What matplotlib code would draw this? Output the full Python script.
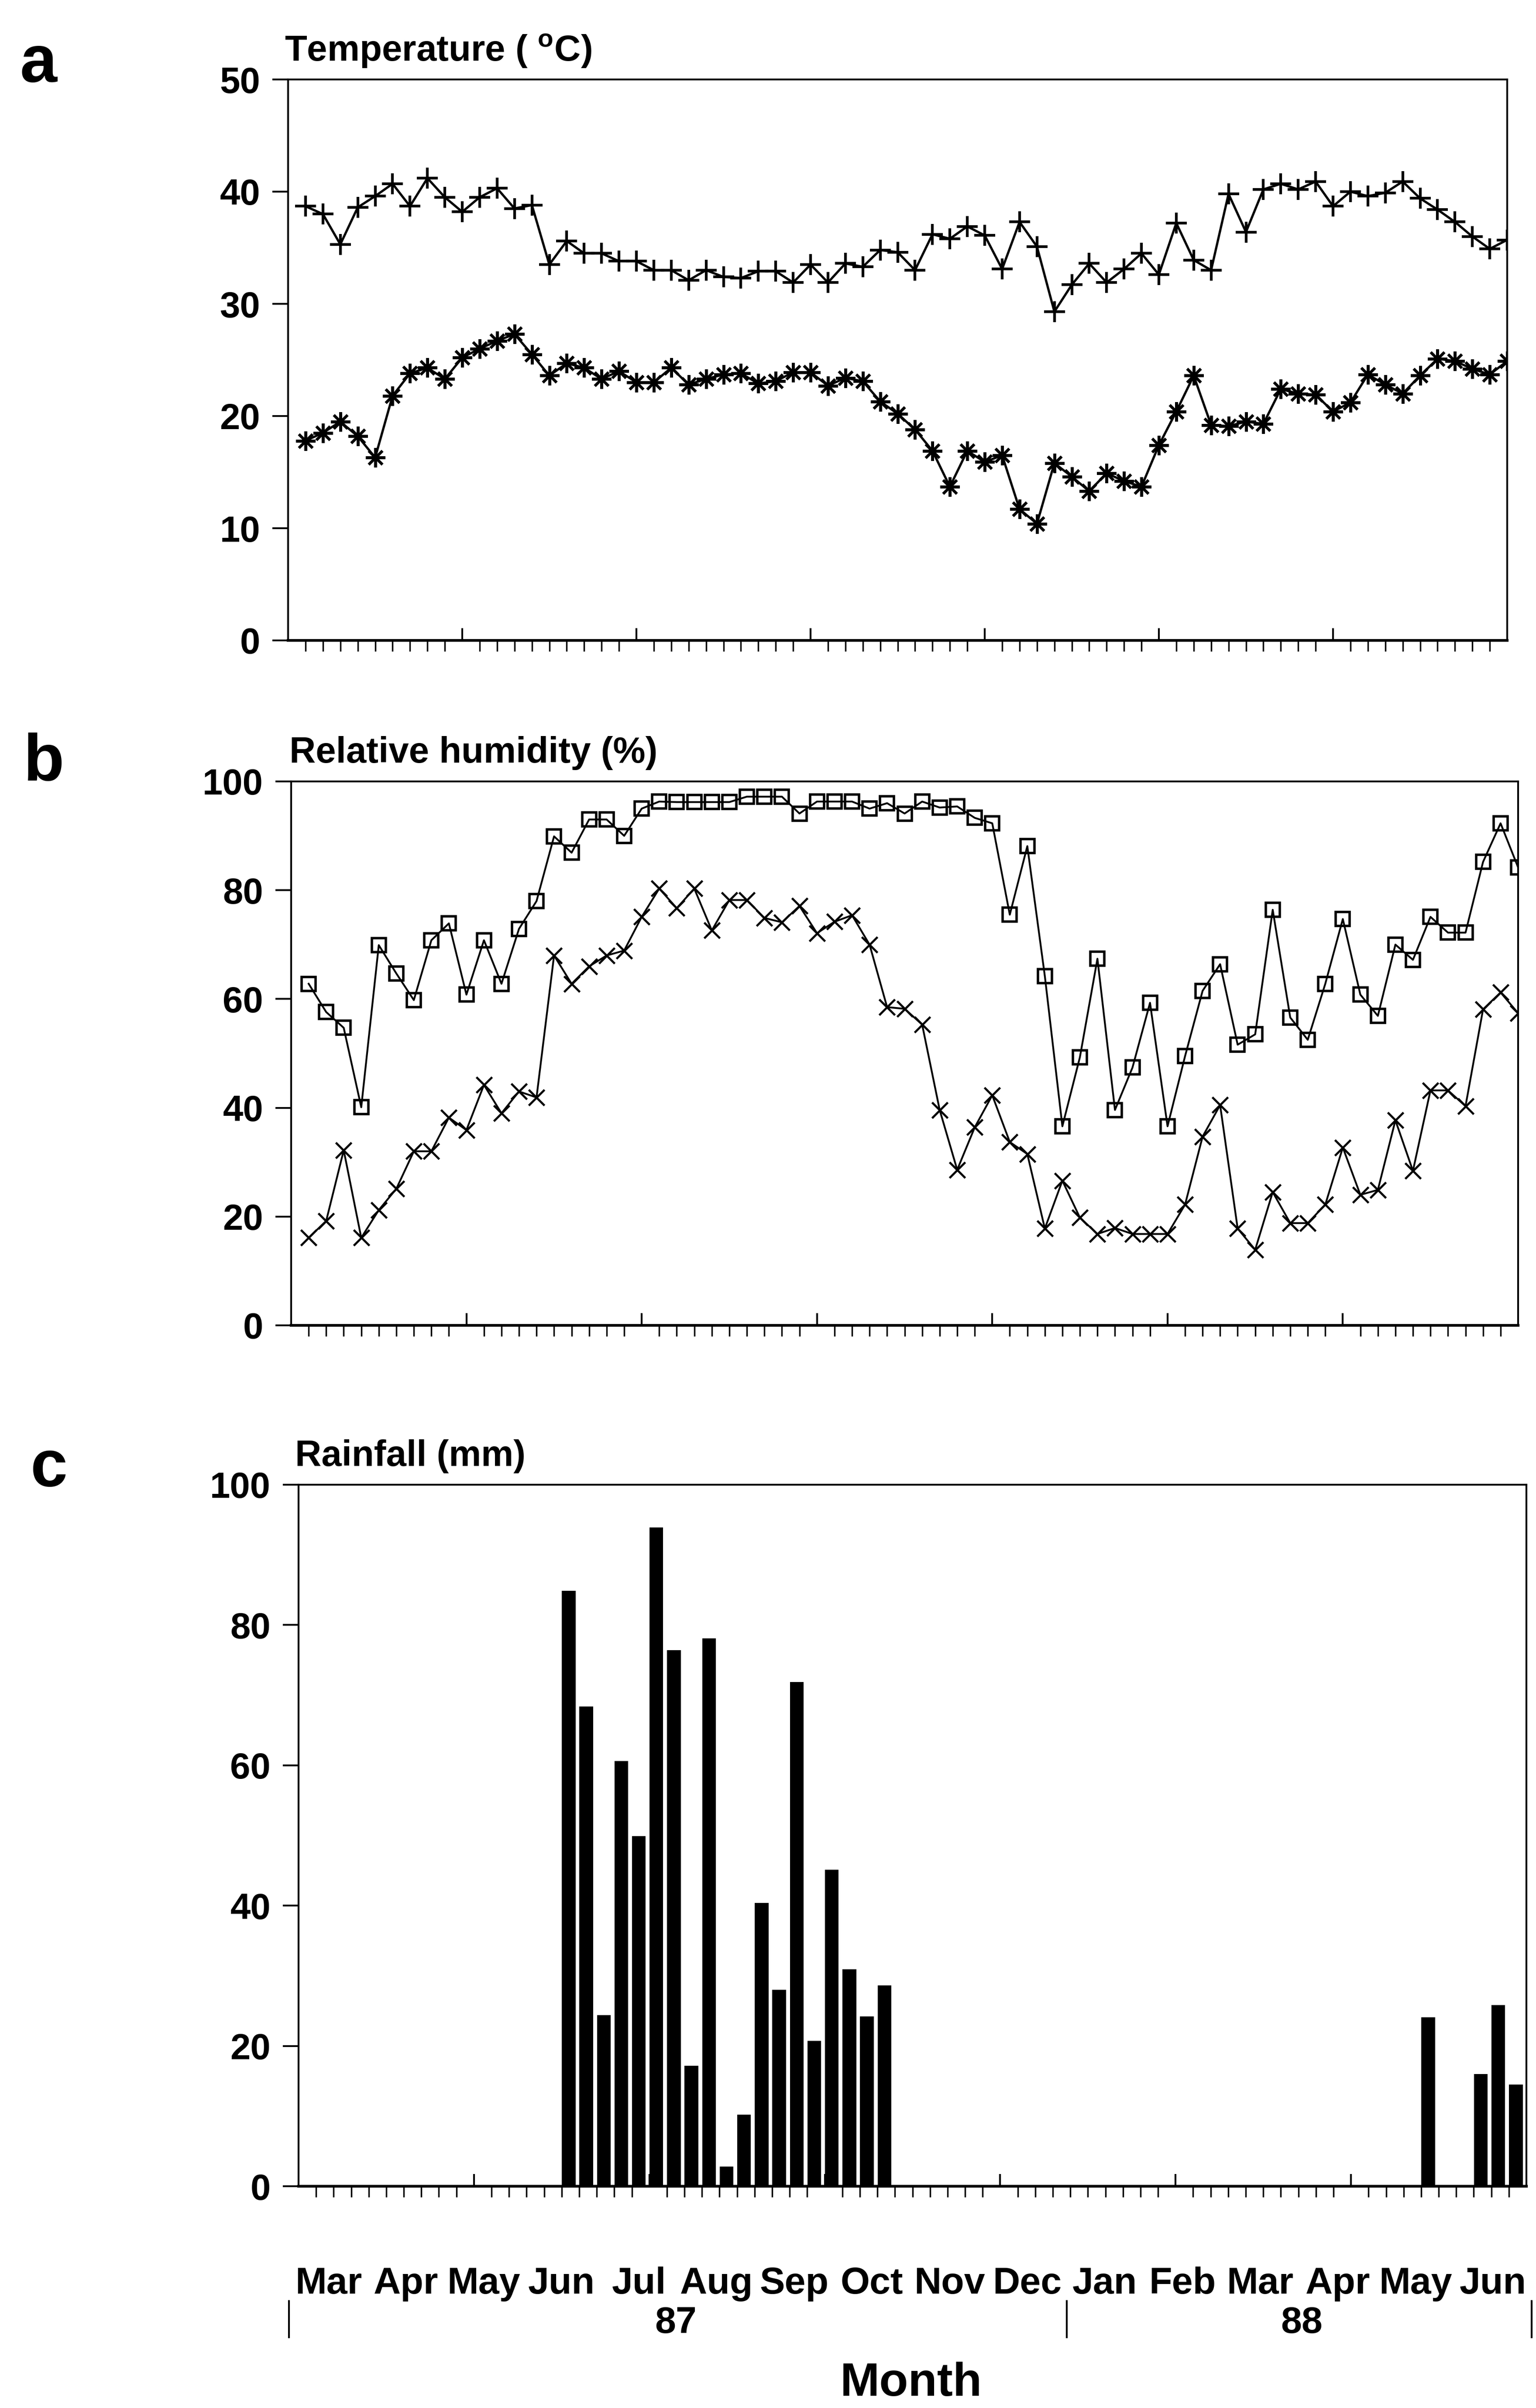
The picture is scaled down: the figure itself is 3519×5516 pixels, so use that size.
import numpy as np
import matplotlib.pyplot as plt
from matplotlib import transforms

plt.rcParams['font.family'] = ['Liberation Sans', 'DejaVu Sans']
plt.rcParams['font.weight'] = 'bold'
plt.rcParams['mathtext.fontset'] = 'custom'
plt.rcParams['mathtext.rm'] = 'Liberation Sans:bold'
plt.rcParams['mathtext.bf'] = 'Liberation Sans:bold'

# weekly data, March 1987 - June 1988
weeks = np.arange(1, 71)

t_max = [38.7, 38.0, 35.3, 38.6, 39.6, 40.7, 38.7, 41.2, 39.5, 38.2,
         39.5, 40.3, 38.5, 38.8, 33.5, 35.6, 34.5, 34.5, 33.8, 33.8,
         33.0, 33.0, 32.1, 33.0, 32.4, 32.3, 32.9, 32.9, 31.9, 33.5,
         31.9, 33.6, 33.3, 34.8, 34.6, 33.0, 36.2, 35.8, 36.9, 36.1,
         33.1, 37.3, 35.1, 29.3, 31.7, 33.6, 31.9, 33.1, 34.5, 32.6,
         37.2, 33.9, 33.0, 39.8, 36.4, 40.2, 40.7, 40.2, 40.9, 38.7,
         40.0, 39.6, 39.9, 40.9, 39.4, 38.4, 37.3, 36.0, 34.9, 35.7]

t_min = [17.8, 18.5, 19.5, 18.2, 16.3, 21.8, 23.8, 24.3, 23.3, 25.2,
         26.0, 26.7, 27.3, 25.5, 23.6, 24.7, 24.3, 23.3, 24.0, 23.0,
         23.0, 24.3, 22.8, 23.3, 23.7, 23.8, 22.9, 23.1, 23.9, 23.9,
         22.7, 23.4, 23.1, 21.3, 20.2, 18.8, 16.9, 13.7, 16.9, 15.9,
         16.5, 11.7, 10.4, 15.8, 14.6, 13.3, 14.9, 14.2, 13.7, 17.4,
         20.4, 23.6, 19.2, 19.1, 19.5, 19.3, 22.4, 22.0, 21.9, 20.4,
         21.2, 23.7, 22.8, 22.0, 23.6, 25.1, 24.9, 24.2, 23.7, 24.9]

rh_max = [62.8, 57.6, 54.7, 40.1, 69.9, 64.7, 59.8, 70.8, 73.9, 60.8,
          70.8, 62.8, 72.9, 78.0, 89.9, 86.9, 93.0, 93.0, 90.0, 95.0,
          96.3, 96.2, 96.2, 96.2, 96.2, 97.2, 97.2, 97.2, 94.1, 96.3,
          96.3, 96.3, 95.0, 96.0, 94.1, 96.3, 95.2, 95.4, 93.3, 92.3,
          75.5, 88.1, 64.2, 36.6, 49.3, 67.4, 39.6, 47.4, 59.3, 36.6,
          49.5, 61.5, 66.4, 51.6, 53.5, 76.4, 56.6, 52.5, 62.8, 74.7,
          60.8, 56.9, 70.0, 67.2, 75.1, 72.2, 72.2, 85.2, 92.3, 84.2]

rh_min = [16.1, 19.2, 32.2, 16.1, 21.2, 25.1, 32.0, 32.0, 38.2, 35.9,
          44.2, 39.0, 43.0, 41.9, 68.0, 62.8, 66.0, 68.0, 68.9, 75.1,
          80.3, 76.7, 80.3, 72.6, 78.2, 78.2, 74.9, 74.1, 77.1, 72.1,
          74.2, 75.4, 70.0, 58.5, 58.2, 55.3, 39.6, 28.6, 36.4, 42.3,
          33.7, 31.5, 17.8, 26.6, 19.8, 16.8, 17.9, 16.8, 16.8, 16.8,
          22.2, 34.7, 40.5, 17.8, 13.9, 24.5, 18.8, 18.8, 22.2, 32.7,
          24.0, 24.9, 37.7, 28.4, 43.2, 43.2, 40.3, 58.1, 61.2, 57.4]

rain_weeks = [15, 16, 17, 18, 19, 20, 21, 22, 23, 24, 25, 26, 27, 28,
              29, 30, 31, 32, 33, 64, 67, 68, 69]
rain_mm = [84.9, 68.4, 24.4, 60.6, 49.9, 93.9, 76.4, 17.2, 78.1, 2.8,
           10.2, 40.4, 28.0, 71.9, 20.7, 45.1, 30.9, 24.2, 28.6,
           24.1, 16.0, 25.8, 14.5]

months = ['Mar', 'Apr', 'May', 'Jun', 'Jul', 'Aug', 'Sep', 'Oct',
          'Nov', 'Dec', 'Jan', 'Feb', 'Mar', 'Apr', 'May', 'Jun']
years = ['87', '88']

W, H = 3519, 5516
fig = plt.figure(figsize=(W / 100, H / 100), dpi=100)


def box(l, t, r, b):
    # pixel box -> figure fraction
    return [l / W, 1 - b / H, (r - l) / W, (b - t) / H]


def fx(x, y):
    return x / W, 1 - y / H


def style(ax, yticks, ylim):
    ax.set_xlim(0, 70)
    ax.set_ylim(*ylim)
    ax.set_yticks(yticks)
    ax.set_xticks(np.arange(10, 70, 10))
    ax.set_xticks(np.arange(1, 70), minor=True)
    ax.set_xticklabels([])
    for s in ax.spines.values():
        s.set_linewidth(3)
    ax.spines['bottom'].set_linewidth(4.5)
    ax.tick_params(axis='y', direction='out', length=26, width=3,
                   labelsize=60, pad=20)
    ax.tick_params(axis='x', which='major', direction='in', length=20,
                   width=3, labelbottom=False)
    ax.tick_params(axis='x', which='minor', direction='out', length=18,
                   width=2.5)
    for lab in ax.get_yticklabels():
        lab.set_fontweight('bold')


# a - temperature
ax1 = fig.add_axes(box(660, 182, 3453, 1467))
ax1.plot(weeks, t_max, color='black', lw=3.8, marker='+', ms=34, mew=4.5)
ax1.plot(weeks, t_min, color='black', lw=3.8, marker=(8, 2, 0), ms=32, mew=4.5)
style(ax1, np.arange(0, 51, 10), (0, 50))

# b - relative humidity
ax2 = fig.add_axes(box(667, 1790, 3478, 3036))
ax2.plot(weeks, rh_max, color='black', lw=3, marker='s', ms=23,
         mfc='none', mew=4)
ax2.plot(weeks, rh_min, color='black', lw=3, marker='x', ms=26, mew=3.5)
style(ax2, np.arange(0, 101, 20), (0, 100))

# c - rainfall
ax3 = fig.add_axes(box(684, 3401, 3497, 5008))
ax3.bar(np.array(rain_weeks) + 0.4, rain_mm, width=0.78, color='black')
style(ax3, np.arange(0, 101, 20), (0, 100))

# titles and panel letters
fig.text(*fx(652, 140), 'Temperature ( $^{\\mathrm{o}}$C)', fontsize=60,
         fontweight='bold', va='baseline')
fig.text(*fx(663, 1747), 'Relative humidity (%)', fontsize=60,
         fontweight='bold', va='baseline')
fig.text(*fx(676, 3358), 'Rainfall (mm)', fontsize=60,
         fontweight='bold', va='baseline')
for letter, (x, y) in zip('abc', [(45, 188), (54, 1788), (70, 3405)]):
    fig.text(*fx(x, y), letter, fontsize=110, fontweight='bold',
             va='baseline')

# month / year labels under panel c
tr = transforms.blended_transform_factory(ax3.transData, fig.transFigure)
mpos = np.linspace(1.7, 68.1, len(months))
for m, x in zip(months, mpos):
    ax3.text(x, 1 - 5232 / H, m, transform=tr, fontsize=62,
             fontweight='bold', ha='center', va='center', clip_on=False)
for y, x in zip(years, [21.5, 57.2]):
    ax3.text(x, 1 - 5322 / H, y, transform=tr, fontsize=62,
             fontweight='bold', ha='center', va='center', clip_on=False)
for x in [-0.55, 43.8, 70.3]:
    ax3.plot([x, x], [1 - 5271 / H, 1 - 5354 / H], transform=tr,
             color='black', lw=3, clip_on=False)
fig.text(*fx(2087, 5460), 'Month', fontsize=78, fontweight='bold',
         ha='center', va='center')

fig.savefig('out.png', dpi=100, facecolor='white')
